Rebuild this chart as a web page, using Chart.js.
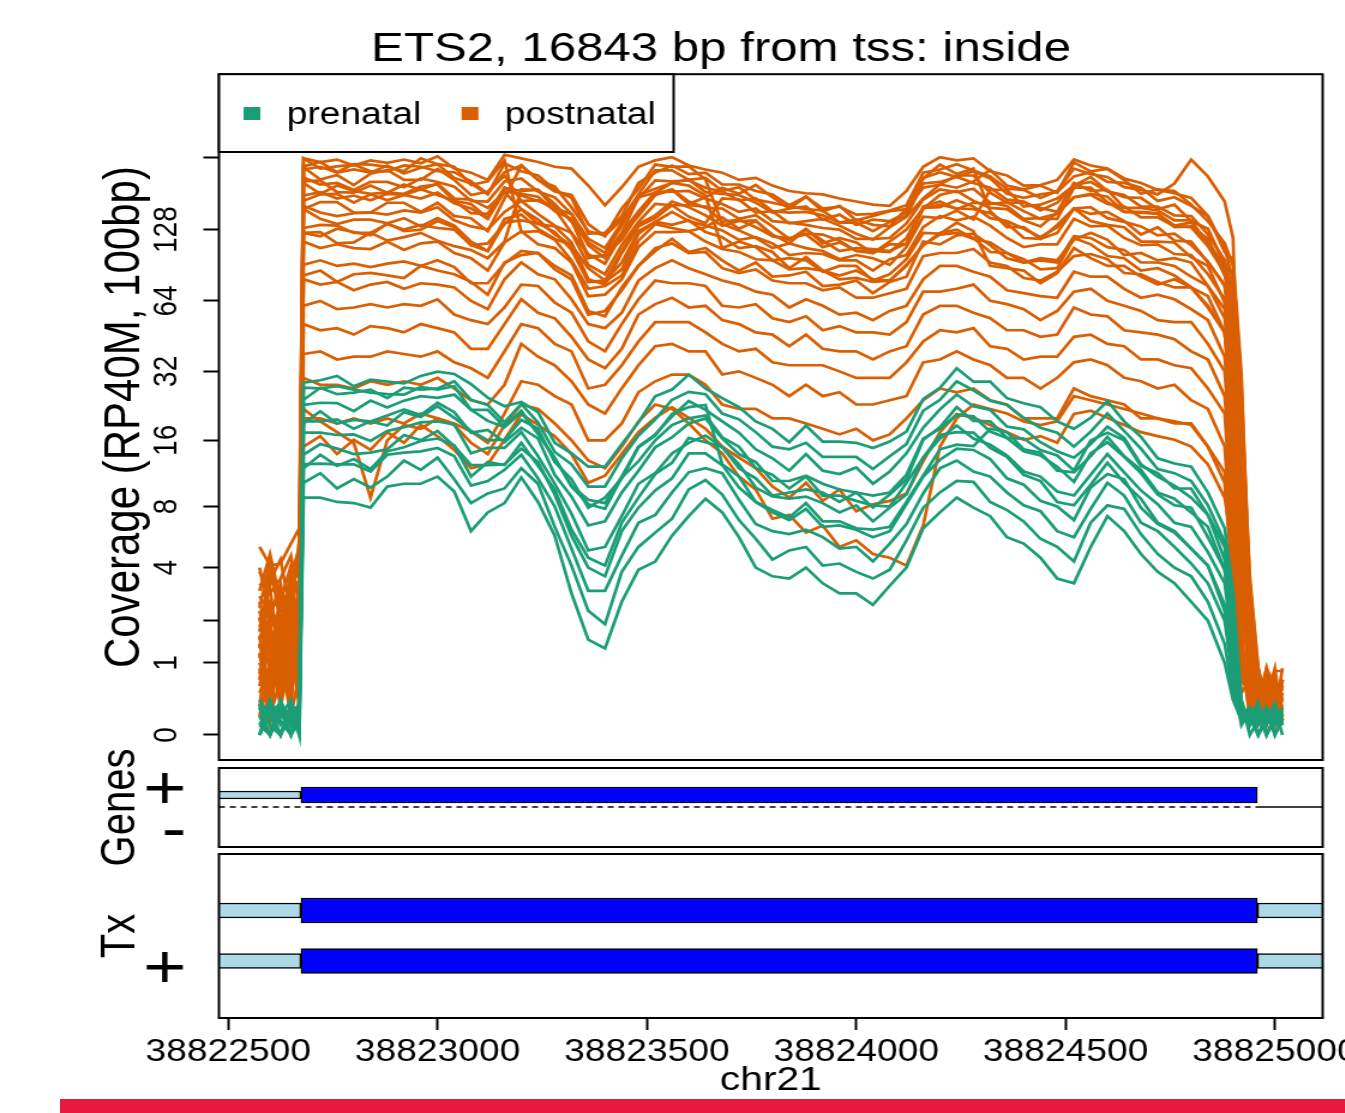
<!DOCTYPE html>
<html>
<head>
<meta charset="utf-8">
<title>ETS2 coverage</title>
<script src="https://cdn.jsdelivr.net/npm/chart.js@4.4.1/dist/chart.umd.min.js"></script>
<style>
  html, body { margin: 0; padding: 0; background: #fff; overflow: hidden; }
  body { width: 1345px; height: 1113px; position: relative; }
  canvas { position: absolute; left: 0; }
  #coverage-chart { top: 0; }
  #genes-chart { top: 722px; }
  #tx-chart { top: 804px; }
  #footer-bar { position: absolute; left: 60px; top: 1099px; width: 1285px; height: 14px; background: #e8193f; }
</style>
</head>
<body>
<canvas id="coverage-chart" width="1202" height="765" style="width:1442px;height:765px"></canvas>
<canvas id="genes-chart" width="1202" height="171" style="width:1442px;height:171px"></canvas>
<canvas id="tx-chart" width="1202" height="309" style="width:1442px;height:309px"></canvas>
<div id="footer-bar"></div>
<script>
const positions = [38822575, 38822600, 38822625, 38822650, 38822670,
  38822680, 38822720, 38822760, 38822800, 38822840, 38822880, 38822920, 38822960, 38823000, 38823040, 38823080, 38823120, 38823160,
  38823200, 38823240, 38823280, 38823320, 38823360, 38823400, 38823440, 38823480, 38823520, 38823560, 38823600, 38823640,
  38823680, 38823720, 38823760, 38823800, 38823840, 38823880, 38823920, 38823960, 38824000, 38824040, 38824080, 38824120,
  38824160, 38824200, 38824240, 38824280, 38824320, 38824360, 38824400, 38824440, 38824480, 38824520, 38824560, 38824600,
  38824640, 38824680, 38824720, 38824760, 38824800, 38824840, 38824880,
  38824900, 38824920, 38824940, 38824960, 38824980, 38825000, 38825018];

// coverage (RP40M, 100bp) per sample
const postnatal1 = [5.1, 4.1, 4.2, 5.3, 6.3, 255, 246, 252, 238, 250, 244, 252, 243, 260, 231, 222, 207, 264, 255, 246, 235, 231, 196, 162, 193, 235, 250, 258, 238, 229, 222, 207, 211, 196, 186, 182, 180, 173, 168, 163, 161, 186, 235, 258, 250, 255, 225, 216, 196, 197, 207, 252, 238, 231, 210, 201, 188, 182, 174, 146, 107, 78, 17, 1.6, 0.7, 0.5, 0.85, 0.85];
const postnatal2 = [3.2, 3.6, 2.5, 3.1, 3.4, 229, 235, 222, 229, 222, 238, 220, 233, 241, 211, 200, 180, 243, 225, 216, 188, 174, 123, 124, 146, 201, 222, 238, 219, 222, 198, 198, 186, 180, 162, 176, 157, 160, 148, 149, 154, 162, 222, 229, 241, 227, 214, 190, 188, 174, 186, 231, 219, 213, 193, 188, 180, 200, 252, 214, 168, 118, 7, 1.3, 0.5, 0.3, 0.4, 0.2];
const postnatal3 = [2.8, 2.2, 3.0, 1.9, 2.6, 212, 198, 201, 188, 203, 203, 193, 210, 203, 194, 169, 168, 204, 210, 185, 175, 149, 117, 107, 137, 173, 206, 204, 206, 192, 185, 170, 173, 153, 151, 152, 147, 137, 137, 126, 138, 146, 200, 203, 213, 201, 192, 171, 168, 154, 166, 197, 203, 185, 179, 160, 160, 147, 146, 122, 95, 68, 11, 1.0, 0.4, 0.6, 0.2, 0.4];
const postnatal4 = [1.5, 2.6, 1.2, 3.3, 2.0, 178, 184, 173, 178, 170, 181, 179, 173, 183, 165, 157, 142, 185, 181, 176, 153, 142, 99, 99, 124, 153, 184, 185, 186, 173, 164, 152, 157, 139, 137, 134, 130, 128, 117, 117, 118, 136, 171, 189, 184, 190, 166, 161, 142, 143, 149, 175, 179, 164, 160, 144, 144, 132, 131, 109, 84, 51, 3.6, 0.7, 0.9, 0.2, 0.5, 0.5];
const postnatal5 = [2.3, 1.1, 2.8, 0.8, 3.6, 161, 151, 146, 150, 151, 148, 154, 151, 159, 140, 132, 128, 152, 169, 149, 133, 124, 91, 83, 110, 138, 164, 162, 162, 160, 138, 141, 131, 120, 118, 122, 108, 113, 104, 104, 103, 118, 158, 159, 170, 160, 143, 139, 129, 119, 131, 157, 159, 143, 138, 132, 121, 123, 110, 94, 74, 38, 13, 2.0, 0.3, 0.7, 0.3, 0.6];
const postnatal6 = [0.6, 1.8, 0.9, 2.4, 1.4, 130, 134, 133, 124, 124, 135, 128, 134, 130, 128, 110, 104, 137, 140, 136, 125, 105, 77, 78, 93, 126, 138, 152, 139, 133, 127, 116, 119, 112, 100, 102, 101, 95, 95, 86, 96, 100, 131, 146, 140, 145, 133, 118, 108, 111, 111, 142, 132, 133, 118, 110, 111, 101, 100, 83, 65, 29, 5.1, 0.5, 0.15, 0.4, 0.9, 0.15];
const postnatal7 = [1.0, 0.5, 1.6, 1.1, 2.2, 114, 107, 111, 107, 106, 114, 105, 112, 114, 102, 97, 86, 113, 126, 111, 107, 93, 67, 68, 79, 108, 125, 125, 126, 114, 106, 103, 96, 95, 87, 88, 86, 79, 80, 77, 78, 90, 110, 122, 124, 117, 113, 102, 93, 95, 93, 120, 118, 108, 105, 93, 93, 90, 81, 74, 54, 23, 3.0, 1.1, 0.4, 0.15, 0.15, 0.3];
const postnatal8 = [1.9, 1.3, 0.4, 1.7, 0.9, 91, 95, 90, 92, 89, 92, 94, 90, 95, 89, 76, 76, 92, 104, 102, 90, 82, 58, 55, 73, 90, 107, 112, 102, 103, 88, 84, 87, 78, 76, 76, 71, 73, 66, 66, 69, 72, 99, 102, 102, 106, 93, 90, 80, 78, 85, 99, 101, 96, 84, 83, 77, 73, 73, 61, 47, 19, 4.3, 0.4, 0.6, 0.5, 0.1, 0.7];
const postnatal9 = [0.3, 2.2, 1.4, 0.6, 2.9, 79, 75, 77, 71, 75, 77, 72, 76, 75, 73, 64, 59, 79, 93, 83, 79, 65, 51, 49, 57, 78, 88, 95, 88, 83, 78, 75, 70, 68, 60, 65, 61, 56, 57, 53, 58, 61, 79, 90, 90, 85, 81, 71, 69, 67, 66, 85, 81, 81, 72, 66, 68, 65, 59, 53, 37, 14, 2.2, 0.9, 0.2, 0.9, 0.6, 0.15];
const postnatal10 = [1.2, 0.2, 0.7, 2.0, 0.5, 61, 64, 59, 60, 62, 60, 62, 61, 65, 56, 53, 51, 60, 75, 74, 63, 57, 43, 39, 51, 65, 78, 76, 76, 74, 61, 60, 62, 54, 52, 55, 48, 50, 47, 47, 46, 52, 70, 70, 72, 75, 64, 62, 59, 53, 58, 70, 72, 64, 61, 58, 53, 52, 52, 42, 32, 11, 1.5, 0.3, 0.7, 0.3, 0.4, 0.4];
const postnatal11 = [0.8, 1.5, 0.3, 1.2, 1.7, 51, 48, 49, 46, 50, 49, 47, 51, 49, 47, 40, 40, 51, 65, 57, 54, 45, 36, 33, 40, 56, 62, 66, 60, 61, 53, 51, 47, 46, 41, 46, 40, 39, 39, 36, 39, 41, 56, 61, 61, 57, 54, 48, 48, 45, 46, 60, 56, 55, 48, 47, 46, 44, 39, 36, 25, 8.2, 1.1, 0.2, 0.5, 0.1, 0.7, 0.2];
const postnatal12 = [0.5, 0.9, 1.1, 0.2, 0.8, 38, 39, 36, 37, 37, 39, 38, 37, 39, 35, 33, 30, 39, 51, 49, 42, 39, 27, 28, 34, 43, 52, 52, 52, 47, 42, 39, 40, 35, 34, 34, 34, 32, 30, 30, 30, 35, 43, 48, 47, 49, 41, 40, 36, 37, 37, 45, 46, 42, 41, 36, 36, 34, 33, 27, 21, 6.0, 0.9, 0.6, 0.15, 0.4, 0.2, 0.5];
const postnatal13 = [1.6, 0.4, 2.0, 0.7, 1.1, 30, 28, 28, 27, 29, 28, 29, 28, 30, 27, 24, 23, 28, 42, 37, 34, 29, 23, 21, 27, 34, 41, 42, 39, 39, 31, 32, 30, 28, 25, 28, 25, 26, 23, 23, 24, 25, 35, 36, 39, 36, 34, 30, 30, 27, 30, 35, 36, 34, 30, 29, 27, 28, 24, 22, 15, 4.3, 1.8, 0.15, 0.9, 0.2, 0.5, 0.1];
const postnatal14 = [0.2, 1.0, 0.6, 1.4, 0.3, 20, 20, 19, 20, 19, 20, 19, 21, 20, 19, 17.5, 15.6, 21, 29, 28, 25, 23, 16, 16, 19, 26, 29, 31, 31, 28, 23, 22, 22, 20, 20, 19, 18, 17, 18, 16, 17, 20, 24, 27, 26, 27, 24, 23, 20, 20, 20, 27, 25, 24, 23, 20, 20, 19, 19, 15, 11.5, 3.3, 0.5, 0.7, 0.3, 0.6, 0.15, 0.3];
const postnatal15 = [0.9, 0.1, 1.8, 0.5, 1.3, 22, 19.4, 17.4, 15.6, 8.8, 16, 18.7, 18, 20, 18.7, 15.6, 13.9, 18.7, 23, 22, 19, 16, 13, 12, 15, 19.4, 23, 22, 19, 16, 14, 11, 9.6, 7, 7.3, 6, 6.5, 5.1, 5.5, 4.7, 4.5, 4.1, 6.5, 15, 20, 23, 22, 21, 19.4, 18.7, 19.4, 25, 24, 23, 22, 21, 20, 19.4, 18.7, 15, 10.3, 3.0, 1.3, 0.4, 0.2, 0.15, 0.6, 0.3];
const postnatal16 = [2.6, 1.4, 0.8, 2.7, 1.0, 15, 16.7, 13.9, 16.1, 14.5, 17.4, 15.6, 18.7, 16.7, 14.5, 12, 12.5, 16.1, 20.9, 18.7, 16.7, 13.9, 10.3, 11.1, 13.9, 17.4, 20.1, 22.4, 20.1, 18, 15, 13.4, 12, 9.9, 8.8, 10.3, 8.5, 9.6, 7.6, 8.2, 8.5, 9.2, 12.9, 17.4, 20.9, 20.1, 18.7, 17.4, 16.1, 16.7, 15.6, 20.9, 21.6, 20.1, 18.7, 17.4, 16.7, 16.1, 15, 12.5, 8.8, 5.1, 0.7, 0.5, 0.4, 0.9, 0.3, 0.7];
const postnatal17 = [3.8, 2.9, 3.5, 4.6, 2.4, 255, 231, 236, 240, 225, 225, 238, 235, 225, 223, 204, 181, 223, 238, 207, 194, 159, 126, 121, 141, 180, 227, 227, 207, 211, 186, 193, 171, 166, 160, 156, 154, 137, 141, 134, 132, 157, 192, 198, 216, 216, 183, 166, 166, 158, 152, 201, 186, 188, 158, 158, 154, 140, 140, 111, 88, 59, 8.8, 1.3, 0.4, 0.2, 0.5, 0.3];
const postnatal18 = [1.7, 3.9, 2.3, 2.8, 4.4, 169, 180, 181, 166, 180, 170, 179, 189, 179, 169, 164, 143, 192, 186, 188, 164, 138, 113, 102, 133, 179, 190, 201, 208, 184, 181, 179, 166, 151, 157, 160, 141, 148, 134, 141, 139, 151, 211, 223, 213, 225, 210, 181, 174, 180, 184, 214, 223, 203, 201, 192, 169, 175, 161, 146, 103, 96, 31, 2.5, 0.6, 0.4, 0.15, 0.6];
const postnatal19 = [2.0, 3.1, 0.9, 2.5, 1.6, 204, 206, 184, 183, 196, 183, 181, 194, 198, 169, 150, 149, 192, 178, 169, 161, 140, 97, 100, 116, 149, 180, 189, 168, 158, 157, 142, 147, 132, 117, 123, 122, 115, 104, 102, 111, 111, 157, 163, 157, 156, 150, 136, 118, 117, 124, 157, 139, 134, 131, 114, 114, 113, 98, 90, 63, 31, 6.5, 0.6, 0.27, 0.7, 0.37, 0.15];
const postnatal20 = [0.7, 2.4, 1.8, 3.6, 1.2, 124, 120, 129, 125, 121, 136, 126, 128, 139, 131, 110, 112, 135, 156, 141, 122, 110, 88, 78, 104, 135, 147, 168, 159, 147, 133, 139, 140, 120, 116, 129, 112, 118, 113, 102, 114, 128, 157, 179, 186, 169, 158, 156, 140, 132, 151, 175, 181, 176, 152, 151, 149, 133, 137, 113, 90, 73, 22, 3.6, 0.9, 0.3, 0.7, 0.4];
const postnatal21 = [1.4, 0.6, 2.6, 1.9, 0.4, 156, 142, 135, 141, 141, 136, 143, 132, 143, 133, 114, 104, 142, 148, 129, 117, 110, 77, 77, 87, 123, 138, 134, 140, 125, 119, 107, 109, 103, 88, 98, 86, 82, 86, 79, 78, 91, 110, 124, 128, 118, 103, 102, 96, 87, 88, 118, 111, 99, 97, 86, 88, 82, 73, 67, 47, 20, 2.7, 1.5, 0.15, 0.5, 0.2, 0.9];
const postnatal22 = [2.1, 0.8, 1.5, 0.3, 2.7, 82, 86, 77, 83, 84, 82, 80, 90, 86, 83, 77, 68, 93, 100, 102, 87, 79, 56, 58, 71, 90, 104, 117, 103, 107, 95, 86, 93, 81, 82, 85, 74, 75, 78, 69, 77, 81, 114, 111, 121, 123, 110, 97, 93, 97, 95, 116, 124, 116, 100, 102, 95, 97, 93, 74, 59, 27, 3.9, 0.5, 0.7, 0.15, 0.4, 0.5];
const postnatal23 = [2.4, 4.3, 1.9, 3.7, 5.0, 234, 208, 217, 197, 220, 228, 207, 207, 230, 207, 179, 185, 216, 169, 170, 156, 124, 101, 92, 122, 146, 179, 188, 164, 175, 192, 181, 197, 175, 157, 176, 153, 161, 140, 146, 153, 156, 210, 240, 219, 231, 153, 131, 131, 117, 134, 157, 149, 152, 139, 122, 131, 115, 114, 93, 75, 44, 5.5, 1.0, 0.5, 0.27, 0.6, 0.4];
const postnatal24 = [4.0, 2.1, 3.3, 1.5, 3.0, 156, 167, 167, 151, 151, 166, 166, 152, 166, 146, 143, 126, 173, 238, 207, 185, 179, 135, 120, 157, 190, 240, 235, 236, 208, 135, 127, 118, 107, 112, 107, 104, 96, 100, 97, 91, 108, 145, 143, 154, 141, 188, 188, 160, 163, 173, 196, 213, 186, 175, 174, 156, 163, 139, 129, 91, 83, 14, 1.8, 0.3, 0.7, 0.2, 0.5];
const postnatal25 = [3.0, 4.7, 2.6, 4.1, 3.5, 201, 181, 196, 186, 181, 183, 198, 188, 200, 173, 171, 158, 184, 156, 135, 132, 113, 79, 75, 102, 132, 143, 162, 145, 136, 173, 171, 151, 153, 136, 139, 142, 133, 123, 116, 131, 145, 173, 198, 192, 204, 228, 196, 189, 196, 183, 245, 225, 230, 207, 181, 189, 186, 163, 139, 112, 90, 27, 3.3, 0.9, 0.4, 0.7, 0.15];
const postnatal26 = [1.1, 2.0, 0.5, 2.9, 1.8, 124, 125, 112, 113, 124, 115, 119, 124, 115, 109, 105, 97, 114, 189, 188, 157, 149, 110, 97, 124, 175, 183, 201, 196, 178, 107, 114, 108, 95, 97, 95, 85, 90, 90, 78, 83, 96, 124, 123, 137, 126, 90, 88, 86, 76, 84, 107, 97, 90, 90, 81, 75, 79, 73, 60, 47, 22, 3.0, 0.9, 0.2, 0.5, 0.15, 0.7];
const postnatal27 = [1.3, 3.4, 4.4, 2.2, 5.6, 236, 246, 223, 241, 240, 235, 225, 255, 241, 235, 197, 204, 250, 125, 126, 116, 95, 72, 74, 82, 115, 135, 130, 126, 131, 144, 129, 139, 122, 112, 128, 115, 104, 107, 106, 104, 112, 160, 168, 156, 166, 164, 167, 153, 142, 142, 192, 192, 167, 152, 152, 150, 131, 132, 117, 82, 63, 9.6, 1.1, 0.15, 0.6, 0.4, 0.2];

const prenatal1 = [0, 0.3, 0, 0.35, 0.2, 28.6, 29.3, 30.6, 27.6, 29.5, 28.9, 28.4, 30.6, 31.9, 31.2, 28.2, 24.6, 22.6, 23.6, 21.3, 15.6, 14.0, 12.2, 12.2, 15.4, 19.2, 25, 26.7, 31, 27, 24.5, 22.4, 19.4, 18, 15.7, 18.6, 15.8, 15.8, 15.6, 14.8, 15.8, 17.5, 24.3, 27.2, 33, 28.9, 28.9, 24.5, 23.3, 22.4, 19.4, 18, 20.1, 23.8, 19.4, 16.6, 13.3, 12.6, 12.2, 9.3, 6.3, 3.0, 0.3, 0.15, 0.2, 0.1, 0.3, 0];
const prenatal2 = [0.3, 0, 0.2, 0.1, 0.35, 24.1, 27.2, 25.5, 25.9, 26.7, 24.5, 27.2, 26.7, 27, 29, 24.1, 22.9, 19.2, 23.1, 19.2, 14.2, 12.5, 9.9, 9.9, 13.3, 16.8, 19.8, 24.1, 26.1, 25.5, 21, 19.8, 17.4, 15, 14.6, 15.6, 13.5, 13.5, 13.5, 11.9, 13.6, 15.4, 21.6, 24.1, 29, 26.5, 23.9, 22.9, 20.1, 18.2, 17.3, 15, 17.5, 21, 17.6, 14.7, 11.9, 11.4, 10.5, 8.1, 5.4, 2.0, 0.2, 0.3, 0.1, 0.27, 0.15, 0.2];
const prenatal3 = [0, 0.25, 0.35, 0, 0.3, 22.9, 23.4, 23.3, 21.5, 23.9, 22.3, 23.9, 25, 24.6, 25.4, 21.8, 19.5, 18.3, 21.2, 17.1, 13.3, 10, 8.6, 8.3, 11, 15, 17, 20.4, 23.8, 21.8, 19.4, 17.3, 14.6, 13.3, 11.7, 13.9, 11.7, 11.3, 12.1, 10.2, 11.6, 14, 18.2, 21.9, 25.4, 22.6, 21.8, 18.4, 17.9, 15.7, 14.3, 13.4, 15.4, 18.4, 16.4, 12.5, 11, 10, 8.8, 7.3, 4.4, 2.5, 0.4, 0.1, 0.3, 0.15, 0.1, 0.3];
const prenatal4 = [0.1, 0, 0.3, 0.2, 0, 19, 21.5, 19, 19.7, 19.4, 20.6, 21.9, 20.7, 23.4, 21.3, 17.3, 17.8, 15.7, 18.2, 16.3, 11.2, 8.9, 6.5, 6.8, 9.3, 11.7, 14.9, 16.5, 19, 20, 16.3, 13.9, 12.8, 10.5, 10.5, 11.1, 10.2, 9.6, 9.3, 9, 9.3, 11.2, 16.3, 18, 20.7, 20.4, 17.5, 16.4, 14.3, 13.7, 12.2, 10.4, 14, 15.7, 13.5, 11.4, 9.1, 8.1, 7.9, 5.7, 3.9, 1.6, 0.15, 0.2, 0, 0.2, 0.27, 0.1];
const prenatal5 = [0.3, 0.1, 0, 0.35, 0.1, 17.3, 17.3, 16.9, 17, 15.9, 17.6, 18.3, 19.2, 19.4, 18.8, 14, 14.8, 14.8, 17.4, 13.6, 10.2, 7.4, 4.9, 5.1, 7.2, 10.2, 11.4, 14, 15.6, 16.8, 14.9, 12.5, 9.8, 8.9, 8.7, 8.9, 8.3, 7.5, 8.1, 6.8, 7.9, 9.1, 13.4, 16.3, 18.6, 16.3, 15.3, 13.7, 11.6, 11, 9.4, 9, 11.2, 13.9, 11.5, 9.5, 8.2, 6.7, 6.4, 4.8, 3.3, 1.3, 0.37, 0, 0.15, 0.3, 0, 0.15];
const prenatal6 = [0, 0.4, 0.1, 0.2, 0.35, 13.8, 15.4, 14.7, 13.9, 14.1, 14.6, 16.9, 16, 17.6, 15.1, 12.4, 12.4, 12.5, 14.7, 12.8, 9.1, 5.8, 4.0, 3.6, 6.1, 7.9, 9.5, 10.8, 14, 14, 12.4, 9.8, 8.4, 7.5, 6.9, 7.8, 6.4, 6.5, 6.2, 5.7, 6.1, 8.2, 11, 13.1, 14.7, 14.5, 13.2, 10.8, 10.1, 8.5, 8, 6.9, 9.8, 11.3, 10.7, 7.9, 6.6, 6, 5, 4.1, 2.5, 1.0, 0.2, 0.15, 0.37, 0, 0.2, 0.1];
const prenatal7 = [0.2, 0, 0.3, 0, 0.15, 12.5, 12.6, 12.5, 12.5, 11.6, 13.8, 14.1, 14.3, 14.8, 13.6, 10, 10.5, 11.8, 13.8, 10.8, 8, 5, 3, 3, 4.6, 6.7, 7.3, 9.3, 11.5, 12, 11.4, 8.6, 6.6, 6.1, 5.9, 6.2, 5.7, 5, 5.1, 4.3, 5.3, 6.6, 9.2, 12, 13, 11.6, 11, 9.3, 8.1, 7.6, 6.1, 5.7, 7.8, 10.3, 9, 6.7, 6.1, 5.1, 4.2, 3.3, 2, 0.7, 0.1, 0.27, 0.1, 0.15, 0.3, 0.2];
const prenatal8 = [0.4, 0.2, 0, 0.3, 0.2, 10.3, 11.4, 9.7, 10.7, 9.8, 11, 13, 11.8, 13.4, 10.7, 8.3, 9.2, 9.7, 12, 10.2, 6.4, 4.1, 2.3, 1.9, 3.8, 5.1, 6, 7, 9.6, 10.6, 9.1, 6.9, 5.6, 4.4, 4.9, 5.1, 4.1, 4.2, 3.8, 3.5, 3.9, 5.5, 7.9, 9.3, 10.5, 10.4, 8.4, 7.7, 6.8, 5.6, 5.1, 4.3, 6.7, 8.1, 7.8, 5.9, 4.7, 4, 3.6, 2.6, 1.4, 0.5, 0.2, 0.1, 0.2, 0, 0.15, 0.27];
const prenatal9 = [0.1, 0.35, 0.2, 0.4, 0, 8.8, 8.8, 8.4, 8.3, 7.9, 9.9, 10.2, 10.2, 11, 9.4, 6.1, 7.5, 8.3, 10.9, 8.4, 5.8, 2.9, 1.5, 1.3, 2.6, 3.9, 4.3, 5.8, 7.2, 8.7, 7.5, 5.7, 4, 3.6, 3.5, 4, 3.3, 2.9, 2.9, 2.5, 3.2, 4, 6.3, 7.5, 8.8, 7.9, 7.2, 5.7, 5.3, 4.5, 3.5, 3.3, 5.1, 7.2, 6.1, 4.7, 3.8, 3.3, 2.6, 2, 1, 0.4, 0.15, 0.2, 0, 0.2, 0.1, 0.15];
const prenatal10 = [0.2, 0, 0.4, 0.1, 0.3, 27.2, 27, 27.6, 26.7, 25.9, 25.5, 25.4, 27.4, 26.7, 27.6, 21.8, 21.8, 18.4, 21.6, 17.1, 13.4, 9.9, 8.2, 7.8, 10.9, 12.9, 16, 18.7, 20, 20.6, 16.5, 15, 12, 11.2, 9.7, 11, 9, 9, 8.5, 8.1, 8, 10.3, 13.4, 16.9, 17.4, 17.3, 14.8, 13.5, 11.2, 10.5, 8.4, 8.1, 10.1, 12.7, 10.3, 8.7, 6.7, 6.1, 5, 4.1, 2.3, 0.9, 0.3, 0.1, 0.25, 0, 0.2, 0.1];
const prenatal11 = [0, 0.3, 0.15, 0, 0.4, 12, 13.8, 12.3, 13.2, 11.9, 14.3, 14.9, 15.9, 16.3, 15.2, 11, 12.8, 12.4, 15.6, 12.3, 9.6, 6.2, 4.5, 4.1, 6.7, 8.8, 11.3, 12.7, 16.4, 15.7, 15, 12, 10.8, 9, 9.3, 9.6, 9.3, 8.4, 9.3, 7.9, 9.1, 10.7, 16.1, 18.3, 22.4, 19.5, 19.4, 16.4, 16.3, 14.5, 13.7, 11.7, 16, 17.3, 16, 12.3, 11.4, 9.7, 9.7, 7.3, 5.1, 2.2, 0.2, 0.3, 0, 0.15, 0.35, 0.1];
const prenatal12 = [0.35, 0.1, 0, 0.2, 0.3, 19.4, 19.4, 19.8, 18, 19.4, 18.6, 21.3, 20.3, 22.6, 20.1, 17.6, 16, 16.1, 19.7, 18, 12.8, 10.7, 7.9, 8.8, 10.8, 14.9, 16.8, 20.9, 22.4, 22.9, 12.5, 11, 8.4, 7.7, 7.1, 8.3, 6.8, 6.8, 6.3, 6.2, 6.4, 8.4, 11.1, 14.6, 15.3, 15.1, 18, 17.4, 14.6, 14.1, 11.7, 11.5, 13.6, 16.6, 13.6, 11.8, 9.3, 8.7, 7.5, 6.4, 3.9, 1.5, 0.27, 0.1, 0.2, 0.3, 0, 0.2];

const postnatal = [postnatal1, postnatal2, postnatal3, postnatal4, postnatal5, postnatal6, postnatal7, postnatal8,
  postnatal9, postnatal10, postnatal11, postnatal12, postnatal13, postnatal14, postnatal15, postnatal16,
  postnatal17, postnatal18, postnatal19, postnatal20, postnatal21, postnatal22, postnatal23, postnatal24,
  postnatal25, postnatal26, postnatal27];
const prenatal = [prenatal1, prenatal2, prenatal3, prenatal4, prenatal5, prenatal6, prenatal7, prenatal8, prenatal9,
  prenatal10, prenatal11, prenatal12];

const groups = ['prenatal', 'postnatal'];
const coverageTicks = [0, 1, 2, 4, 8, 16, 32, 64, 128, 256];
const coverageTickLabels = ['0', '1', '', '4', '8', '16', '32', '64', '128', ''];
const positionTicks = [38822500, 38823000, 38823500, 38824000, 38824500, 38825000];

// gene and transcripts (ETS2, + strand)
const geneUtr = [38822400, 38822674];
const geneCds = [38822674, 38824958];
const txRows = [1, 2];
const txUtr5 = [38822400, 38822674];
const txCds = [38822674, 38824958];
const txUtr3 = [38824958, 38825200];
const strandLabels = ['+', '-'];

const X_MIN = 38822478, X_MAX = 38825114;
const GREEN = '#1b9e77', ORANGE = '#d95f02', BLUE = '#0000ff', LIGHT_BLUE = '#add8e6';
const FONT = '"Liberation Sans", Arial, Helvetica, sans-serif';
const AXIS_WIDTH = 182.5, RIGHT_PAD = 99.5;

Chart.defaults.font.family = FONT;
Chart.defaults.color = '#000';

const toLog = v => Math.log2(v + 1);
const fixWidth = scale => { scale.width = AXIS_WIDTH; };

const frame = {
    id: 'frame',
    afterDraw(chart) {
        const { ctx, chartArea: a } = chart;
        ctx.save();
        ctx.strokeStyle = '#000';
        ctx.lineWidth = 2;
        ctx.strokeRect(a.left, a.top, a.right - a.left, a.bottom - a.top);
        ctx.restore();
    }
};

// R style y labels, turned to read upwards
const rotatedTicks = {
    id: 'rotatedTicks',
    afterDraw(chart) {
        const scale = chart.scales.y, ctx = chart.ctx;
        ctx.save();
        ctx.font = '28px ' + FONT;
        ctx.fillStyle = '#000';
        ctx.textAlign = 'center';
        ctx.textBaseline = 'middle';
        scale.ticks.forEach((t, i) => {
            const label = coverageTickLabels[i];
            if (!label) return;
            ctx.save();
            ctx.translate(chart.chartArea.left - 43, scale.getPixelForValue(t.value));
            ctx.rotate(-Math.PI / 2);
            ctx.fillText(label, 0, 0);
            ctx.restore();
        });
        ctx.restore();
    }
};

const boxedLegend = {
    id: 'boxedLegend',
    afterDraw(chart) {
        const { ctx, chartArea: a } = chart;
        const left = a.left, top = a.top, w = 379, h = 152 - a.top;
        ctx.save();
        ctx.fillStyle = '#fff';
        ctx.fillRect(left, top, w, h);
        ctx.strokeStyle = '#000';
        ctx.lineWidth = 2;
        ctx.strokeRect(left, top, w, h);
        ctx.font = '31px ' + FONT;
        ctx.textAlign = 'left';
        ctx.textBaseline = 'middle';
        const colours = [GREEN, ORANGE], offsets = [20.5, 202.3];
        groups.forEach((g, i) => {
            ctx.fillStyle = colours[i];
            ctx.fillRect(left + offsets[i], 107, 14, 13);
            ctx.fillStyle = '#000';
            ctx.fillText(g, left + offsets[i] + 36, 115);
        });
        ctx.restore();
    }
};

function coverageLine(values, colour, order) {
    return {
        data: positions.map((x, i) => ({ x: x, y: toLog(values[i]) })),
        borderColor: colour,
        borderWidth: 2.7,
        pointRadius: 0,
        tension: 0,
        fill: false,
        order: order
    };
}

const baseOptions = {
    responsive: false,
    devicePixelRatio: 1,
    animation: false,
    events: [],
};

new Chart(document.getElementById('coverage-chart'), {
    type: 'line',
    data: {
        datasets: postnatal.map(s => coverageLine(s, ORANGE, 2))
            .concat(prenatal.map(s => coverageLine(s, GREEN, 1)))
    },
    options: {
        ...baseOptions,
        layout: { padding: { top: 0, right: 0, bottom: 5, left: 0 } },
        plugins: {
            legend: { display: false },
            tooltip: { enabled: false },
            title: {
                display: true,
                text: 'ETS2, 16843 bp from tss: inside',
                color: '#000',
                font: { size: 41, weight: 'normal' },
                padding: { top: 25, bottom: 0 }
            }
        },
        scales: {
            x: { type: 'linear', min: X_MIN, max: X_MAX, display: false },
            y: {
                type: 'linear',
                bounds: 'data',
                min: -0.347,
                max: 9.167,
                afterBuildTicks: s => { s.ticks = coverageTicks.map(v => ({ value: toLog(v) })); },
                afterFit: fixWidth,
                ticks: { display: false },
                grid: { drawOnChartArea: false, drawTicks: true, tickLength: 13, tickWidth: 2, tickColor: '#000' },
                border: { display: false },
                title: {
                    display: true,
                    text: 'Coverage (RP40M, 100bp)',
                    font: { size: 42 },
                    padding: { top: 79, bottom: 0 }
                }
            },
            // empty right margin, keeps the title centred on the whole figure
            margin: {
                type: 'linear',
                axis: 'y',
                position: 'right',
                afterFit: s => { s.width = RIGHT_PAD; },
                ticks: { display: false },
                grid: { display: false },
                border: { display: false }
            }
        }
    },
    plugins: [frame, rotatedTicks, boxedLegend]
});

const barStyle = { borderColor: '#000', borderWidth: 1.5, borderSkipped: false, grouped: false, indexAxis: 'y' };
const strandTicks = { font: { size: 62, lineHeight: 0.6 }, padding: 27, autoSkip: false };

new Chart(document.getElementById('genes-chart'), {
    type: 'bar',
    data: {
        datasets: [
            { ...barStyle, type: 'bar', data: [{ x: geneCds, y: 0.658 }], backgroundColor: BLUE, barThickness: 16, order: 1 },
            { ...barStyle, type: 'bar', data: [{ x: geneUtr, y: 0.658 }], backgroundColor: LIGHT_BLUE, barThickness: 8, order: 2 },
            { type: 'line', indexAxis: 'x', data: [{ x: X_MIN, y: 0.506 }, { x: geneCds[1], y: 0.506 }],
              borderColor: '#000', borderWidth: 1.5, borderDash: [5, 4], pointRadius: 0, order: 3 },
            { type: 'line', indexAxis: 'x', data: [{ x: geneCds[1], y: 0.506 }, { x: X_MAX, y: 0.506 }],
              borderColor: '#000', borderWidth: 1.5, pointRadius: 0, order: 3 }
        ]
    },
    options: {
        ...baseOptions,
        indexAxis: 'y',
        layout: { padding: { top: 46, right: RIGHT_PAD, bottom: 46, left: 0 } },
        plugins: { legend: { display: false }, tooltip: { enabled: false } },
        scales: {
            x: { type: 'linear', min: X_MIN, max: X_MAX, display: false },
            y: {
                type: 'linear',
                bounds: 'data',
                offset: false,
                min: 0,
                max: 1,
                afterBuildTicks: s => { s.ticks = [{ value: 0.709 }, { value: 0.19 }]; },
                afterFit: fixWidth,
                ticks: { ...strandTicks, callback: (v, i) => strandLabels[i] },
                grid: { display: false, drawTicks: false },
                border: { display: false },
                title: { display: true, text: 'Genes', font: { size: 40 }, padding: { top: 77, bottom: 0 } }
            }
        }
    },
    plugins: [frame]
});

new Chart(document.getElementById('tx-chart'), {
    type: 'bar',
    data: {
        datasets: [
            { ...barStyle, type: 'bar', data: txRows.map(r => ({ x: txCds, y: r })), backgroundColor: BLUE, barThickness: 25, order: 1 },
            { ...barStyle, type: 'bar', data: txRows.flatMap(r => [{ x: txUtr5, y: r }, { x: txUtr3, y: r }]),
              backgroundColor: LIGHT_BLUE, barThickness: 15, order: 2 }
        ]
    },
    options: {
        ...baseOptions,
        indexAxis: 'y',
        layout: { padding: { top: 50, right: RIGHT_PAD, bottom: 0, left: 0 } },
        plugins: { legend: { display: false }, tooltip: { enabled: false } },
        scales: {
            x: {
                type: 'linear',
                min: X_MIN,
                max: X_MAX,
                afterBuildTicks: s => { s.ticks = positionTicks.map(v => ({ value: v })); },
                afterFit: s => { s.height = 95; },
                ticks: { callback: v => String(v), font: { size: 31 }, padding: 4, autoSkip: false, maxRotation: 0, minRotation: 0 },
                grid: { drawOnChartArea: false, drawTicks: true, tickLength: 12, tickWidth: 2, tickColor: '#000' },
                border: { display: false },
                title: { display: true, text: 'chr21', font: { size: 34 }, padding: { top: 0, bottom: 11.6 } }
            },
            y: {
                type: 'linear',
                bounds: 'data',
                offset: false,
                reverse: true,
                min: -0.12,
                max: 3.13,
                afterBuildTicks: s => { s.ticks = [{ value: 2.18 }]; },
                afterFit: fixWidth,
                ticks: { ...strandTicks, callback: () => strandLabels[0] },
                grid: { display: false, drawTicks: false },
                border: { display: false },
                title: { display: true, text: 'Tx', font: { size: 40 }, padding: { top: 77, bottom: 0 } }
            }
        }
    },
    plugins: [frame]
});
</script>
</body>
</html>
